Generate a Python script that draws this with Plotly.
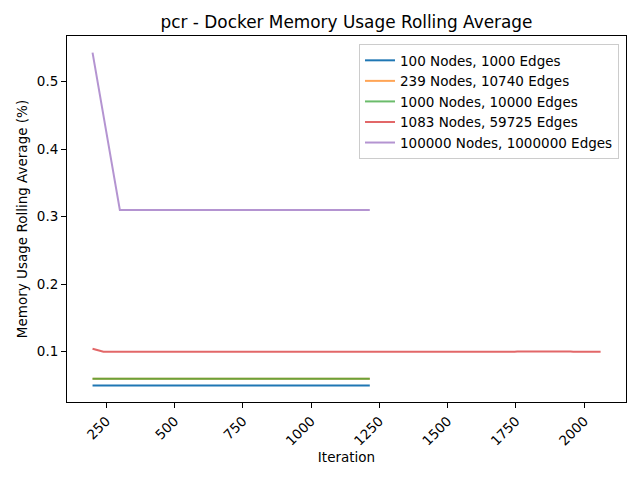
import plotly.graph_objects as go

# Data
names = ["100 Nodes, 1000 Edges", "239 Nodes, 10740 Edges", "1000 Nodes, 10000 Edges",
         "1083 Nodes, 59725 Edges", "100000 Nodes, 1000000 Edges"]

x_100 = [200, 1215]
y_100 = [0.0502, 0.0502]

x_239 = [200, 1215]
y_239 = [0.0600, 0.0600]

x_1000 = [200, 1215]
y_1000 = [0.0600, 0.0600]

x_1083 = [200, 240, 1745, 1755, 1950, 1960, 2060]
y_1083 = [0.1045, 0.1000, 0.1000, 0.1004, 0.1004, 0.1000, 0.1000]

x_100000 = [200, 240, 270, 300, 1215]
y_100000 = [0.543, 0.450, 0.385, 0.310, 0.310]

xs = [x_100, x_239, x_1000, x_1083, x_100000]
ys = [y_100, y_239, y_1000, y_1083, y_100000]
colors = ["rgba(31,119,180,1)", "rgba(255,127,14,0.7)", "rgba(44,160,44,0.7)",
          "rgba(214,39,40,0.7)", "rgba(148,103,189,0.7)"]

x_ticks = [250, 500, 750, 1000, 1250, 1500, 1750, 2000]
y_ticks = [0.1, 0.2, 0.3, 0.4, 0.5]

fig = go.Figure()
for n, x, y, c in zip(names, xs, ys, colors):
    fig.add_trace(go.Scatter(x=x, y=y, mode="lines", name=n,
                             line=dict(color=c, width=2)))

font = "DejaVu Sans, sans-serif"
axis_common = dict(showline=True, linecolor="black", linewidth=1, mirror=True,
                   ticks="outside", ticklen=5, tickcolor="black", showgrid=False,
                   zeroline=False, automargin=False,
                   tickfont=dict(size=13.5, color="black", family=font))

W, H = 632, 472
L, R, T, B = 59, 14, 28, 78

fig.update_layout(
    width=W, height=H,
    margin=dict(l=L, r=R, t=T, b=B),
    paper_bgcolor="white", plot_bgcolor="white",
    title=dict(text="pcr - Docker Memory Usage Rolling Average",
               x=(L + (W - R)) / 2 / W, xanchor="center",
               y=1 - 14/H, yanchor="middle", font=dict(size=16.9, color="black", family=font)),
    xaxis=dict(range=[106.5, 2153], tickvals=x_ticks, ticktext=[str(v) for v in x_ticks],
               tickangle=-45,
               title=dict(text="Iteration", font=dict(size=13.5, color="black", family=font), standoff=2),
               **axis_common),
    yaxis=dict(range=[0.0256, 0.5675], tickvals=y_ticks, ticktext=[str(v) for v in y_ticks],
               title=dict(text="Memory Usage Rolling Average (%)", font=dict(size=13.5, color="black", family=font), standoff=6),
               **axis_common),
    legend=dict(x=0.9875, y=0.978, xanchor="right", yanchor="top",
                bgcolor="rgba(255,255,255,0.8)", bordercolor="#cccccc", borderwidth=1,
                font=dict(size=13.5, color="black", family=font), tracegroupgap=0,
                itemwidth=30),
    showlegend=True,
)

fig.write_html("out.html")
